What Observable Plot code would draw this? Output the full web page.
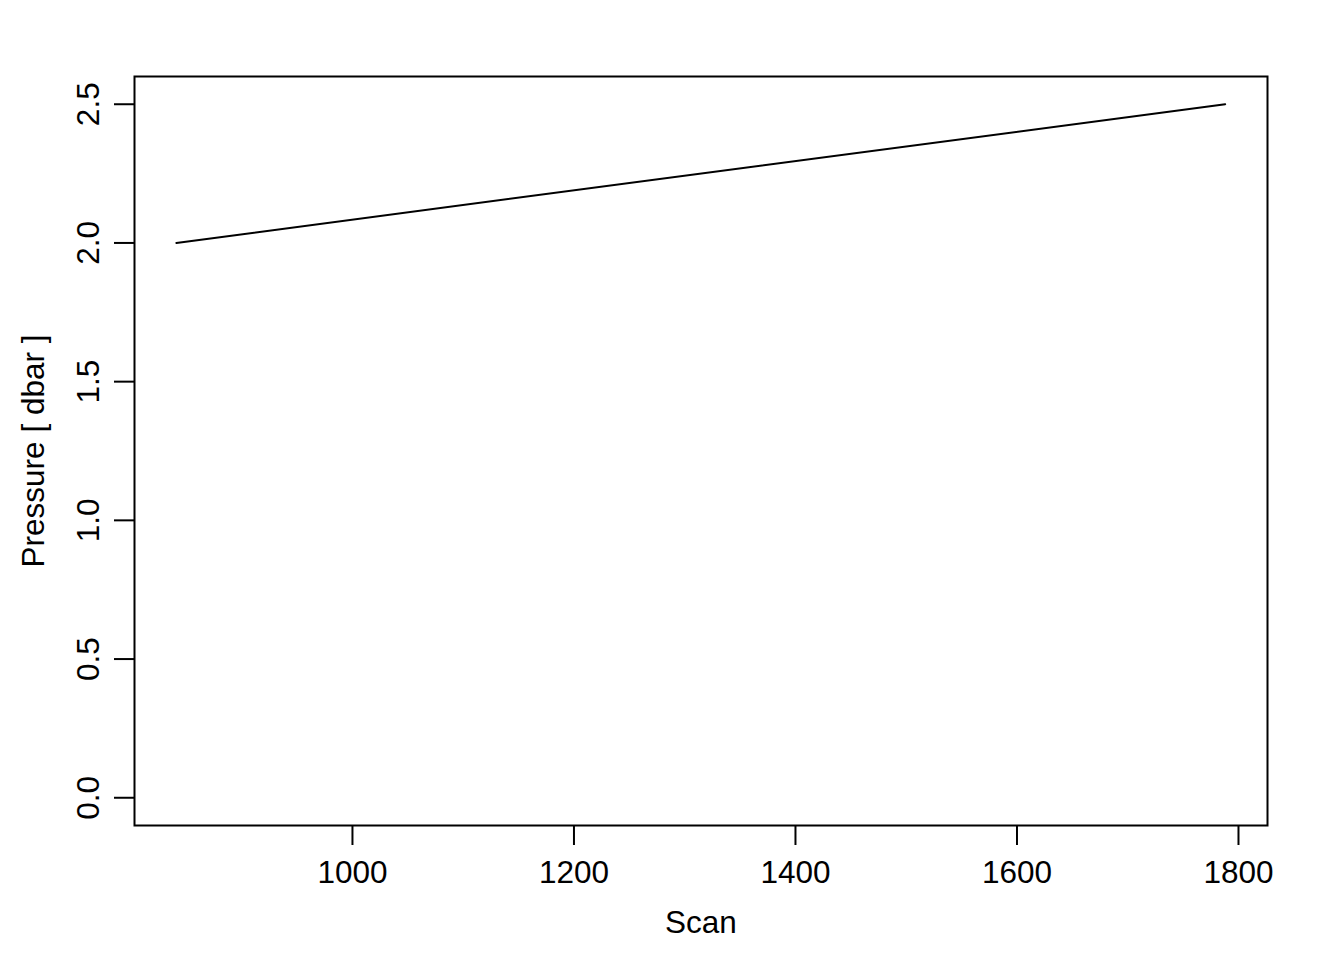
<!DOCTYPE html>
<html>
<head>
<meta charset="utf-8">
<script src="https://cdn.jsdelivr.net/npm/d3@7"></script>
<script src="https://cdn.jsdelivr.net/npm/@observablehq/plot@0.6"></script>
<style>
  html, body { margin: 0; padding: 0; background: white; }
</style>
</head>
<body>
<div id="chart"></div>
<script>
const scan = [841, 1788];
const pressure = [2.0, 2.5];
const xTicks = [1000, 1200, 1400, 1600, 1800];
const yTicks = [0, 0.5, 1, 1.5, 2, 2.5];
const xLabel = "Scan";
const yLabel = "Pressure [ dbar ]";

const data = scan.map((s, i) => ({scan: s, pressure: pressure[i]}));
const font = "'Liberation Sans', Arial, Helvetica, sans-serif";
const fs = 31.5;

const chart = Plot.plot({
  width: 1344,
  height: 960,
  marginLeft: 134,
  marginRight: 77,
  marginTop: 76,
  marginBottom: 135,
  style: {fontFamily: font, fontSize: fs + "px", background: "white", color: "black"},
  x: {domain: [803.2, 1826.2]},
  y: {domain: [-0.1, 2.6]},
  marks: [
    Plot.frame({stroke: "black", strokeWidth: 2}),
    Plot.axisX(xTicks, {tickSize: 20, tickPadding: 15, tickFormat: d => String(d), fontSize: fs, label: null, strokeWidth: 2, fill: "black"}),
    Plot.axisY(yTicks, {tickSize: 20, tickFormat: () => "", label: null, strokeWidth: 2}),
    Plot.text(yTicks, {y: d => d, text: d => d.toFixed(1), frameAnchor: "left", dx: -46, rotate: -90, textAnchor: "middle", lineAnchor: "middle", fontSize: fs, fill: "black"}),
    Plot.text([xLabel], {frameAnchor: "bottom", dy: 97, lineAnchor: "middle", textAnchor: "middle", fontSize: fs, fill: "black"}),
    Plot.text([yLabel], {frameAnchor: "left", dx: -101, rotate: -90, lineAnchor: "middle", textAnchor: "middle", fontSize: fs, fill: "black"}),
    Plot.line(data, {x: "scan", y: "pressure", stroke: "black", strokeWidth: 2})
  ]
});
document.getElementById("chart").appendChild(chart);
</script>
</body>
</html>
